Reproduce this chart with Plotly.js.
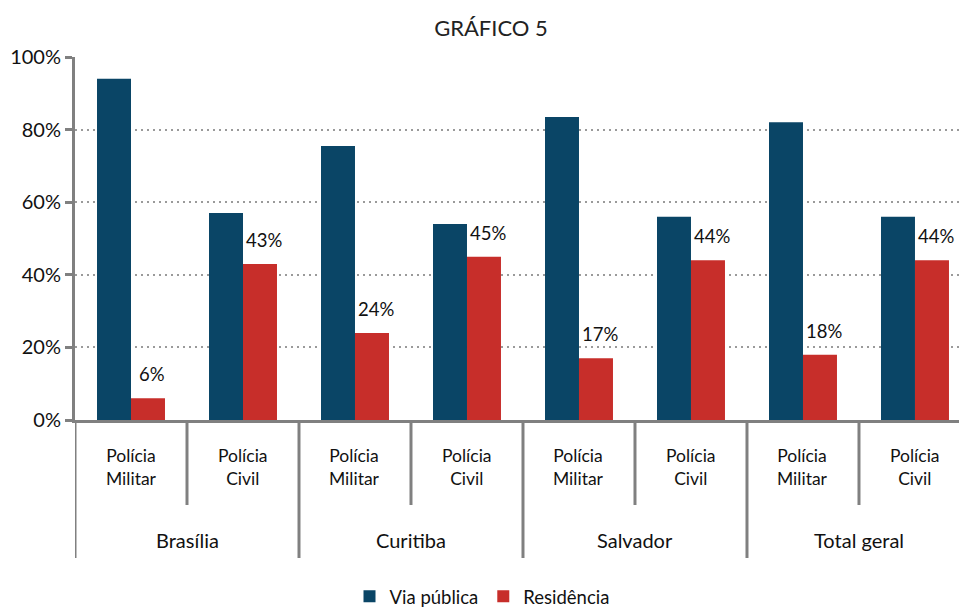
<!DOCTYPE html>
<html>
<head>
<meta charset="utf-8">
<script src="https://cdn.plot.ly/plotly-3.0.1.min.js"></script>
<style>html,body{margin:0;padding:0;background:#fff;}#chart{width:959px;height:607px;}</style>
</head>
<body>
<div id="chart"></div>
<script>
// ---- data ----
var cities = ["Brasília", "Curitiba", "Salvador", "Total geral"];
var types = ["Polícia<br>Militar", "Polícia<br>Civil"];
var viaPublica = [94, 57, 75.5, 54, 83.5, 56, 82, 56];
var residencia = [6, 43, 24, 45, 17, 44, 18, 44];
var residenciaLabels = ["6%", "43%", "24%", "45%", "17%", "44%", "18%", "44%"];
var yTicks = [0, 20, 40, 60, 80, 100];
var yTickText = ["0%", "20%", "40%", "60%", "80%", "100%"];

// ---- derived positions ----
var idx = [], subLabels = [];
cities.forEach(function (c, ci) {
  types.forEach(function (t, ti) { idx.push(ci * types.length + ti); subLabels.push(t); });
});
var cityCenters = cities.map(function (c, ci) { return ci * types.length + (types.length - 1) / 2; });
var innerBounds = cities.map(function (c, ci) { return ci * types.length + 0.5; });
var outerBounds = [-0.5].concat(cities.map(function (c, ci) { return (ci + 1) * types.length - 0.5; }));

var BLUE = "#0a4566", RED = "#c72e2a", GREY = "#808080";
var FONT = "Lato, 'Open Sans', sans-serif";
var PLOT_H = 607 - 57 - 187;
var PLOT_W = 959 - 75;

var traces = [
  { type: "bar", name: "Via pública", x: idx, y: viaPublica, marker: { color: BLUE }, hoverinfo: "none" },
  { type: "bar", name: "Residência", x: idx, y: residencia, marker: { color: RED }, hoverinfo: "none" }
];

var annotations = idx.map(function (i, k) {
  return { x: i, y: residencia[k], xref: "x", yref: "y", text: residenciaLabels[k], showarrow: false,
    xshift: 21, yshift: 24, yanchor: "middle", xanchor: "center",
    font: { family: FONT, size: 18.5, color: "#111" } };
});
idx.forEach(function (i, k) {
  annotations.push({ x: i, y: -47 / PLOT_H, xref: "x", yref: "paper", text: subLabels[k], showarrow: false,
    xanchor: "center", yanchor: "middle", font: { family: FONT, size: 17.5, color: "#111" } });
});
cities.forEach(function (c, ci) {
  annotations.push({ x: cityCenters[ci], y: -120 / PLOT_H, xref: "x", yref: "paper", text: c, showarrow: false,
    xanchor: "center", yanchor: "middle", font: { family: FONT, size: 20, color: "#111" } });
});

var shapes = [];
innerBounds.forEach(function (b) {
  shapes.push({ type: "line", xref: "x", yref: "paper", x0: b, x1: b, y0: 0, y1: -85 / PLOT_H,
    line: { color: GREY, width: 3 } });
});
outerBounds.forEach(function (b) {
  shapes.push({ type: "line", xref: "x", yref: "paper", x0: b, x1: b, y0: 0, y1: -138 / PLOT_H,
    line: { color: GREY, width: 3 } });
});

var layout = {
  width: 959, height: 607, autosize: false,
  margin: { l: 75, r: 0, t: 57, b: 187, autoexpand: false },
  paper_bgcolor: "#fff", plot_bgcolor: "#fff",
  font: { family: FONT, color: "#111" },
  title: { text: "GRÁFICO 5", x: 0.512, xref: "container", y: 27, yref: "container", yanchor: "middle",
    font: { family: FONT, size: 22, color: "#222" } },
  barmode: "group", bargap: 0.393, bargroupgap: 0,
  showlegend: true,
  legend: { orientation: "h", x: (482 - 75) / PLOT_W, xref: "paper", xanchor: "center", y: -0.487, yanchor: "middle",
    font: { family: FONT, size: 18.5, color: "#111" }, traceorder: "normal" },
  xaxis: { range: [-0.5, 7.393], autorange: false, showticklabels: false, ticks: "",
    showline: true, linecolor: GREY, linewidth: 3, showgrid: false, zeroline: false, fixedrange: true },
  yaxis: { range: [0, 100], autorange: false, tickmode: "array", tickvals: yTicks, ticktext: yTickText,
    ticks: "outside", ticklen: 7, tickwidth: 3, tickcolor: GREY,
    showline: true, linecolor: GREY, linewidth: 3,
    showgrid: true, gridcolor: "#9a9a9a", gridwidth: 2, griddash: "2px,4px", zeroline: false,
    tickfont: { family: FONT, size: 20, color: "#111" }, fixedrange: true },
  annotations: annotations,
  shapes: shapes
};

Plotly.newPlot("chart", traces, layout, { displayModeBar: false, staticPlot: true });
</script>
</body>
</html>
